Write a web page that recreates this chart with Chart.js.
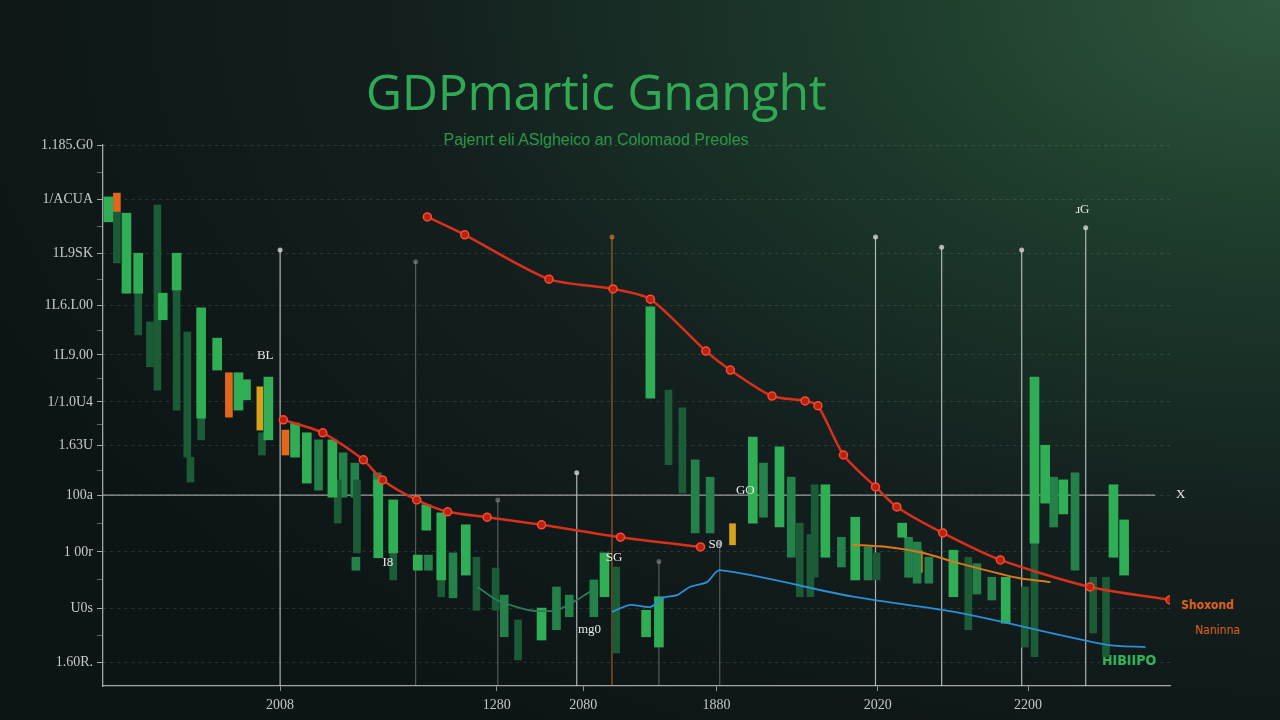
<!DOCTYPE html>
<html>
<head>
<meta charset="utf-8">
<script src="https://cdn.jsdelivr.net/npm/chart.js@4.4.1/dist/chart.umd.min.js"></script>
<style>
  html, body { margin: 0; width: 1280px; height: 720px; overflow: hidden; }
  body {
    position: relative;
    background: radial-gradient(ellipse 110% 120% at 100% 0%, #2e573d 0%, #1d3a2b 30%, #131f1e 62%, #0d1415 100%);
    font-family: "Open Sans", sans-serif;
  }
  canvas { position: absolute; left: 0; top: 0; }
  .title {
    position: absolute; left: 596px; top: 57px; transform: translateX(-50%);
    font-size: 50px; color: #30a954; white-space: nowrap; letter-spacing: -0.3px;
  }
  .subtitle {
    position: absolute; left: 596px; top: 131px; transform: translateX(-50%);
    font-family: "Liberation Sans", sans-serif; font-size: 16px; color: #2a9547; white-space: nowrap;
  }
  .leg { position: absolute; font-family: "DejaVu Sans Condensed", sans-serif; font-size: 12px; white-space: nowrap; }
</style>
</head>
<body>
<div class="title">GDPmartic Gnanght</div>
<div class="subtitle">Pajenrt eli ASlgheico an Colomaod Preoles</div>
<div class="leg" style="left:1181px;top:598px;color:#d9621c;font-weight:bold">Shoxond</div>
<div class="leg" style="left:1195px;top:623px;color:#d9621c">Naninna</div>
<div class="leg" style="left:1102px;top:652px;color:#2fb35a;font-weight:bold;font-size:14px">HIBIIPO</div>
<canvas id="chart" width="1280" height="720"></canvas>
<script>
// axis ticks
const yTickValues = [4.4, 14.4, 24.8, 35.3, 44.4, 52.5, 61.2, 70.4, 80, 90, 100];
const yTickLabels = ["1.60R.", "U0s", "1 00r", "100a", "1.63U", "1/1.0U4", "1L9.00", "1L6.L00", "1L9SK", "1/ACUA", "1.185.G0"];
const yMinorValues = [9.4, 19.6, 30.0, 39.8, 48.4, 56.8, 65.8, 75.2, 85, 95];
const xTickValues = [16.6, 36.9, 45.0, 57.5, 72.6, 86.7];
const xTickLabels = ["2008", "1280", "2080", "1880", "2020", "2200"];

// floating bars: [x, low, high]
const brightBars = [
  [0.5,85.8,90.4],[2.2,72.6,87.4],[3.3,72.6,80.0],[5.6,67.7,72.6],[6.9,73.2,80.0],[9.2,49.5,69.9],
  [10.7,58.4,64.3],[12.7,51.0,57.9],[13.4,52.9,56.6],[15.5,45.5,57.1],[18.0,42.3,48.6],[19.1,37.5,46.8],
  [21.5,34.9,45.5],[25.8,23.7,38.1],[27.2,24.6,34.4],[29.5,21.4,24.2],[30.3,28.8,33.5],[31.7,19.6,32.0],
  [34.0,20.5,29.8],[41.1,8.5,14.4],[47.0,16.5,24.6],[50.9,9.1,14.0],[52.1,7.2,16.5],[51.3,53.2,70.1],
  [60.9,30.1,46.0],[63.4,29.4,44.2],[67.7,23.8,37.2],[70.5,19.6,31.2],[74.9,27.5,30.1],[79.7,16.5,25.1],
  [84.6,11.6,20.1],[87.3,26.4,57.1],[88.3,33.8,44.5],[90.0,31.8,38.1],[94.7,23.8,37.2],[95.7,20.5,30.7]
];
const darkBars = [
  [1.3,78.2,87.6],[3.3,64.9,72.6],[4.4,59.0,67.3],[5.1,54.7,88.9],[6.9,51.0,73.2],[7.9,42.3,65.4],
  [8.2,37.7,42.3],[9.2,45.5,49.5],[14.9,42.7,46.8],[22.0,30.1,38.1],[23.8,24.6,38.1],[27.2,19.6,24.6],
  [31.7,16.5,19.6],[35.0,14.0,23.8],[36.8,14.0,21.8],[38.9,4.8,12.2],[48.1,6.1,22.0],[53.0,40.9,54.7],
  [54.3,35.7,51.4],[65.3,16.5,30.1],[66.3,16.5,28.0],[66.7,20.1,37.2],[72.5,19.6,24.6],[81.1,10.4,23.8],
  [86.4,7.2,18.3],[87.3,5.4,26.4],[92.8,9.8,20.1],[94.0,5.4,20.1]
];
const midBars = [
  [20.2,36.2,45.5],[22.5,34.9,43.1],[23.6,34.9,41.2],[25.7,34.9,39.4],[23.7,21.4,23.8],[30.5,21.4,24.2],
  [32.8,16.3,24.6],[37.6,9.1,16.8],[42.5,10.4,18.3],[43.7,12.8,16.8],[46.0,12.8,19.6],[55.5,28.3,41.8],
  [56.9,28.3,38.6],[61.9,31.2,41.2],[64.5,23.8,38.6],[69.2,22.0,27.5],[71.7,19.6,25.7],[75.5,20.1,27.5],
  [76.3,19.0,26.6],[77.4,19.0,23.8],[81.9,17.0,22.6],[83.3,15.9,20.1],[89.1,29.4,38.6],[91.1,21.4,39.4]
];
const orangeBars = [[1.3,87.6,91.1],[11.8,49.7,57.9],[17.1,42.7,47.3]];
const yellowBars = [[14.7,47.3,55.3],[59.0,26.1,30.0],[76.5,21.0,25.0]];

// lines: [x, y]
const redUpper = [[30.4,86.7],[33.9,83.4],[41.8,75.2],[47.8,73.4],[51.3,71.5],[56.5,61.9],[58.8,58.4],
  [62.7,53.6],[65.8,52.7],[67.0,51.8],[69.4,42.7],[72.4,36.8],[74.4,33.1],[78.7,28.3],[84.1,23.3],[92.5,18.3],[100,15.9]];
const redLower = [[16.9,49.2],[20.6,46.8],[24.4,41.8],[26.2,38.1],[29.4,34.4],[32.3,32.2],[36.0,31.2],
  [41.1,29.8],[48.5,27.5],[56.0,25.7]];
const orangeLine = [[70.2,26.1],[73.5,25.7],[76.9,24.6],[80.0,22.8],[85.7,20.0],[88.8,19.2]];
const blueLine = [[47.7,13.7],[49.4,15.0],[51.3,14.6],[52.5,16.3],[53.8,16.8],[55.0,18.3],[56.6,19.2],
  [57.8,21.4],[70.3,16.5],[80.3,13.5],[94.1,7.6],[97.7,7.2]];
const tealLine = [[35.1,18.3],[36.9,15.9],[40.0,14.0],[42.5,14.0],[44.4,15.9],[46.3,18.3]];

// vertical guide lines: x and top value
const whiteGuideX = [16.6, 44.4, 72.4, 78.6, 86.1, 92.1];
const whiteGuideTop = [80.6, 39.4, 83.0, 81.1, 80.6, 84.7];
const faintGuideX = [29.3, 37.0, 52.1, 57.8];
const faintGuideTop = [78.4, 34.4, 23.0, 26.4];
const orangeGuideX = [47.7];
const orangeGuideTop = [83.0];
const zeroLineY = 35.3;

// small text marks
const notes = [
  [15.2, 61.0, "BL"], [91.8, 88.0, "ɹG"], [101.0, 35.3, "X"], [26.7, 22.9, "I8"],
  [47.9, 23.8, "SG"], [45.6, 10.4, "mg0"], [60.2, 36.2, "GO"], [57.4, 26.1, "S0"]
];

const pts = arr => arr.map(([x, y]) => ({ x, y }));
const bars = arr => arr.map(([x, lo, hi]) => ({ x, y: [lo, hi] }));
function guides(xs, tops) {
  const out = [];
  xs.forEach((x, i) => { out.push({ x, y: tops[i] }, { x, y: 0 }, { x, y: null }); });
  return out;
}

function barSet(data, color, w) {
  return { type: "bar", data: bars(data), backgroundColor: color, barThickness: w, grouped: false, order: 5 };
}
function lineSet(data, color, width, extra) {
  return Object.assign({ type: "line", data: pts(data), borderColor: color, borderWidth: width,
    pointRadius: 0, tension: 0.25, order: 1 }, extra || {});
}
function guideSet(xs, tops, color) {
  return { type: "line", data: guides(xs, tops), borderColor: color, borderWidth: 1.2, spanGaps: false,
    pointRadius: ctx => (ctx.raw && ctx.raw.y > 0 ? 2.5 : 0), pointBackgroundColor: color, pointBorderWidth: 0, order: 8 };
}

const notePlugin = {
  id: "notes",
  afterDatasetsDraw(chart) {
    const { ctx, scales: { x, y } } = chart;
    ctx.save();
    ctx.fillStyle = "#e8e8e8";
    ctx.font = "13px 'Liberation Serif', serif";
    ctx.textAlign = "center";
    ctx.textBaseline = "middle";
    for (const [nx, ny, t] of notes) ctx.fillText(t, x.getPixelForValue(nx), y.getPixelForValue(ny));
    ctx.restore();
  }
};

const isMajor = v => yTickValues.includes(v);
const allY = yTickValues.concat(yMinorValues).sort((a, b) => a - b);

new Chart(document.getElementById("chart"), {
  type: "bar",
  data: {
    datasets: [
      lineSet(redUpper, "#d9301c", 2.5, { pointRadius: 4, pointBackgroundColor: "#b82215", pointBorderColor: "#ff4a2c", pointBorderWidth: 1.5 }),
      lineSet(redLower, "#d9301c", 2.5, { pointRadius: 4, pointBackgroundColor: "#b82215", pointBorderColor: "#ff4a2c", pointBorderWidth: 1.5 }),
      lineSet(orangeLine, "#d9781c", 2, { order: 2 }),
      lineSet(blueLine, "#2b8fd4", 1.8),
      lineSet(tealLine, "#2a7d55", 1.8, { order: 3 }),
      lineSet([[0, zeroLineY], [98.6, zeroLineY]], "rgba(200,200,200,0.75)", 1.3, { tension: 0, order: 7 }),
      barSet(brightBars, "#2fae55", 9),
      barSet(darkBars, "#1b5c37", 7),
      barSet(midBars, "#24814a", 8),
      barSet(orangeBars, "#e2671a", 7),
      barSet(yellowBars, "#d7a11c", 6),
      guideSet(whiteGuideX, whiteGuideTop, "rgba(215,215,215,0.8)"),
      guideSet(faintGuideX, faintGuideTop, "rgba(190,190,190,0.4)"),
      guideSet(orangeGuideX, orangeGuideTop, "rgba(215,120,40,0.7)")
    ]
  },
  options: {
    responsive: false,
    animation: false,
    layout: { padding: { left: 0, top: 145, right: 110, bottom: 0 } },
    plugins: { legend: { display: false }, tooltip: { enabled: false } },
    scales: {
      x: {
        type: "linear", min: 0, max: 100, offset: false,
        afterBuildTicks: s => { s.ticks = xTickValues.map(v => ({ value: v })); },
        afterFit: s => { s.height = 34; },
        ticks: { callback: (v, i) => xTickLabels[i], color: "#c4c4c4", autoSkip: false, maxRotation: 0,
          padding: 6, font: { family: "'Liberation Serif', serif", size: 14 } },
        grid: { offset: false, drawOnChartArea: false, tickLength: 5, tickColor: "rgba(200,200,200,0.7)" },
        border: { color: "rgba(200,200,200,0.8)", width: 1.3 }
      },
      y: {
        type: "linear", min: 0, max: 100,
        afterBuildTicks: s => { s.ticks = allY.map(v => ({ value: v })); },
        afterFit: s => { s.width = 103; },
        ticks: { callback: v => (isMajor(v) ? yTickLabels[yTickValues.indexOf(v)] : ""), color: "#c8c8c8",
          autoSkip: false, padding: 4, font: { family: "'Liberation Serif', serif", size: 14 } },
        grid: {
          color: c => (c.tick && isMajor(c.tick.value) ? "rgba(190,200,195,0.16)" : "transparent"),
          tickLength: 6,
          tickColor: c => (c.tick && isMajor(c.tick.value) ? "rgba(200,200,200,0.8)" : "rgba(200,200,200,0.45)"),
          tickBorderDash: []
        },
        border: { color: "rgba(200,200,200,0.8)", width: 1.3, dash: [3, 4] }
      }
    }
  },
  plugins: [notePlugin]
});
</script>
</body>
</html>
